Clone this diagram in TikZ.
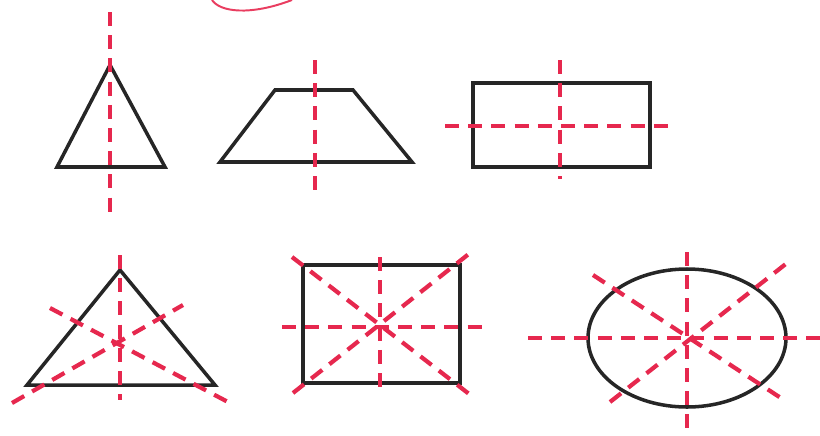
\documentclass[tikz,border=0pt]{standalone}
\usepackage{tikz}
\usepackage{xcolor}
\definecolor{axisred}{RGB}{230,40,78}

\begin{document}
\begin{tikzpicture}[
    x=0.025cm,
    y=-0.025cm,
    outline/.style={line width=2.5pt, black!85, line join=miter},
    axis/.style={line width=3pt, axisred, dash pattern=on 10pt off 6.5pt}
]
  \useasboundingbox (0,0) rectangle (820,435);
  % scribble at the top
  \draw[line width=1.4pt, axisred!90] (212,0) .. controls (220,12) and (250,16) .. (292,0);
  % top row
  \draw[outline] (110,65) -- (57,167) -- (165,167) -- cycle;
  \draw[axis] (110,12) -- (110,215);
  \draw[outline] (275,90) -- (353,90) -- (412,162) -- (220,162) -- cycle;
  \draw[axis] (315,60) -- (315,196);
  \draw[outline] (473,83) rectangle (650,167);
  \draw[axis] (560,60) -- (560,179);
  \draw[axis] (445,126) -- (677,126);
  % bottom row
  \draw[outline] (120,270) -- (27,385) -- (215,385) -- cycle;
  \draw[axis] (120,255) -- (120,400);
  \draw[axis] (12,403) -- (183,305);
  \draw[axis] (50,308) -- (228,402);
  \draw[outline] (303,265) rectangle (460,383);
  \draw[axis] (380,257) -- (380,396);
  \draw[axis] (282,327) -- (483,327);
  \draw[axis] (292,257) -- (473,397);
  \draw[axis] (293,393) -- (470,253);
  \draw[outline] (687,338) ellipse [x radius=99, y radius=69];
  \draw[axis] (528,338) -- (820,338);
  \draw[axis] (687,252) -- (687,435);
  \draw[axis] (593,275) -- (787,402);
  \draw[axis] (610,402) -- (787,263);
\end{tikzpicture}
\end{document}
